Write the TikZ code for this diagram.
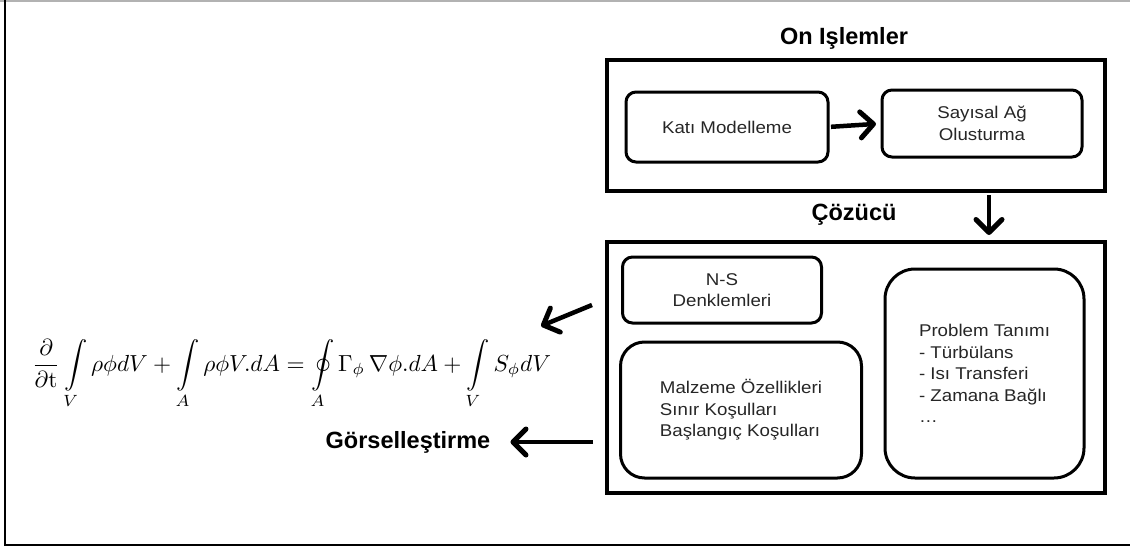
\documentclass[tikz,border=0pt]{standalone}
\usepackage[no-math]{fontspec}
\usepackage{graphicx}
\usepackage{amsmath}
\usetikzlibrary{arrows.meta,calc}
\newfontfamily\boxf{Liberation Sans}[FakeStretch=1.1]
\newfontfamily\titf{Liberation Sans}
\tikzset{
  bigbox/.style={draw=black, line width=4pt, rectangle, outer sep=0pt, inner sep=0pt},
  rbox/.style={draw=black, line width=3pt, rectangle, rounded corners=#1, outer sep=0pt, inner sep=4pt,
     font=\boxf\fontsize{17}{21.5}\selectfont, text=black!85},
  ttl/.style={font=\titf\bfseries\fontsize{23.5}{28}\selectfont, inner sep=0pt},
  arr/.style={line width=4.5pt, -{Straight Barb[length=13pt,width=26pt,line width=5pt,round]}},
}
\begin{document}
\begin{tikzpicture}[x=1pt,y=-1pt]
\useasboundingbox (0,0) rectangle (1130,546);
% outer frame
\draw[gray!60, line width=1.5pt] (0,0.75) -- (1130,0.75);
\draw[black, line width=2pt] (5,0) -- (5,544.5) -- (1130,544.5);

% titles
\node[ttl] (t1) at (844,38) {On Işlemler};
\node[ttl] (t2) at (854,215) {Çözücü};
\node[ttl] (gorsel) at (408,442) {Görselleştirme};

% big boxes
\node[bigbox, minimum width=498pt, minimum height=131pt] (box1) at (856,125.5) {};
\node[bigbox, minimum width=498pt, minimum height=251pt] (box2) at (856,367.5) {};

% inner boxes
\node[rbox=10pt, minimum width=202pt, minimum height=70pt, align=center] (kati) at (727,127) {Katı Modelleme};
\node[rbox=10pt, minimum width=200pt, minimum height=67pt, align=center] (sayisal) at (982,123.5) {Sayısal Ağ\\Olusturma};
\node[rbox=10pt, minimum width=199pt, minimum height=66pt, align=center] (ns) at (722,290) {N-S\\Denklemleri};
\node[rbox=24pt, minimum width=241pt, minimum height=136pt, align=left] (malz) at (741,410) {Malzeme Özellikleri\\Sınır Koşulları\\Başlangıç Koşulları};
\node[rbox=30pt, minimum width=199pt, minimum height=209pt, align=left] (prob) at (984.5,373.5) {Problem Tanımı\\- Türbülans\\- Isı Transferi\\- Zamana Bağlı\\…};

% equation
\node[inner sep=0pt] (eq) at (291.5,374) {\resizebox{519pt}{!}{$\displaystyle
\frac{\partial}{\partial \mathrm{t}}\int\limits_V \rho\phi dV+\int\limits_A \rho\phi V.dA=\oint\limits_A \Gamma_{\phi}\,\nabla\phi.dA+\int\limits_V S_{\phi} dV$}};

% connectors
\coordinate (dx) at (989,0);
\coordinate (a1s) at (592,305);
\coordinate (a1e) at (541,326);
\draw[arr, shorten <=3pt, shorten >=6pt] (kati.east) -- (sayisal.west);
\draw[arr, shorten <=4pt, shorten >=7pt] (box1.south -| dx) -- (box2.north -| dx);
\draw[arr] (a1s) -- (a1e);
\draw[arr, shorten <=14pt, shorten >=20pt] (box2.west |- gorsel) -- (gorsel.east);
\end{tikzpicture}
\end{document}
